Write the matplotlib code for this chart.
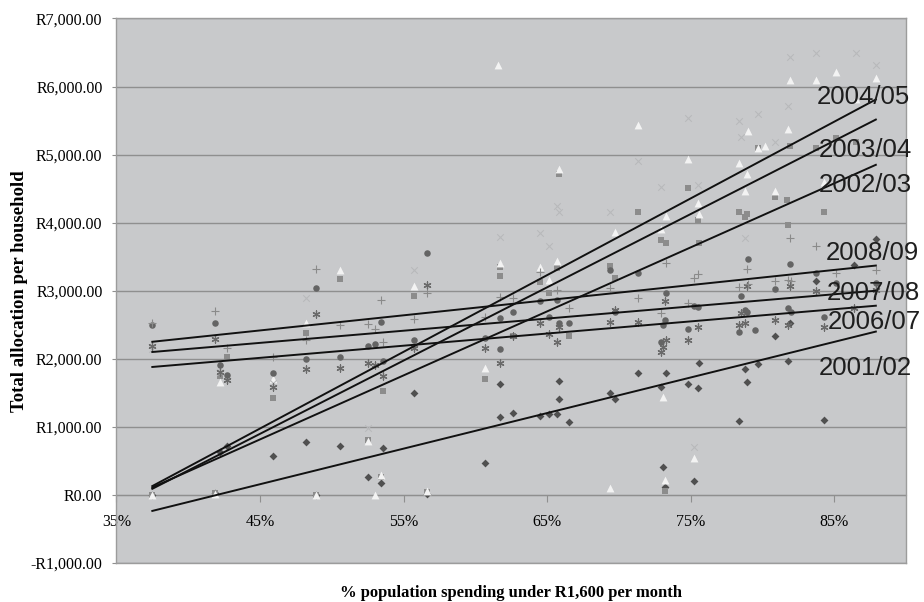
import matplotlib
matplotlib.use("Agg")
import matplotlib.pyplot as plt
from matplotlib.ticker import FuncFormatter, MultipleLocator


# % population spending under R1600 (x) and allocation per household (y)
# 2001/02 - diamonds
x_0102 = [37.5, 41.9, 42.2, 42.7, 45.9, 48.2, 48.9, 50.6, 52.5, 53.4, 53.6, 55.7, 56.6, 60.7, 61.7,
          61.7, 62.6, 64.5, 65.1, 65.7, 65.8, 65.8, 66.5, 69.4, 69.7, 71.3, 72.9, 73.1, 73.2, 73.3,
          74.8, 75.2, 75.5, 75.6, 78.4, 78.8, 78.9, 79.7, 80.9, 81.8, 81.9, 83.7, 84.3, 86.4, 87.9]
y_0102 = [0, 30, 630, 720, 570, 780, 0, 720, 265, 175, 690, 1500, 20, 470, 1630,
          1150, 1200, 1160, 1190, 1190, 1680, 1410, 1070, 1500, 1410, 1790, 1590, 410, 120, 1790,
          1630, 210, 1570, 1940, 1090, 1850, 1660, 1930, 2340, 1970, 2530, 3150, 1100, 3380, 3760]

# 2002/03 - squares
x_0203 = [37.5, 41.9, 42.2, 42.7, 45.9, 48.2, 48.9, 50.6, 52.5, 53.4, 53.6, 55.7, 56.6, 60.7, 61.7,
          61.7, 62.6, 64.5, 65.1, 65.7, 65.8, 66.5, 69.4, 69.7, 71.3, 72.9, 73.2, 73.3, 74.8, 75.5,
          75.6, 78.4, 78.8, 78.9, 79.7, 80.9, 81.8, 81.9, 83.7, 84.3, 85.1, 86.5, 81.7]
y_0203 = [0, 30, 1750, 2030, 1430, 2380, 0, 3170, 810, 265, 1530, 2930, 40, 1700, 3220,
          3350, 2330, 3130, 2970, 3340, 4720, 2340, 3370, 3190, 4150, 3740, 60, 3700, 4510, 4040,
          3700, 4160, 4090, 4130, 5100, 4380, 3970, 5120, 5090, 4160, 5250, 5190, 4340]

# 2003/04 - triangles
x_0304 = [37.5, 41.9, 42.2, 45.9, 48.2, 48.9, 50.6, 52.5, 53.0, 53.4, 55.7, 56.6, 60.7, 61.6, 61.7,
          64.5, 65.1, 65.7, 65.8, 69.4, 69.7, 71.3, 72.9, 73.1, 73.2, 73.3, 74.8, 75.2, 75.5, 75.6,
          78.4, 78.8, 79.0, 78.9, 79.7, 80.2, 80.9, 81.8, 81.9, 83.7, 84.3, 85.1, 86.5, 87.9]
y_0304 = [0, 20, 1660, 1700, 2530, 0, 3310, 790, 0, 300, 3070, 60, 1870, 6320, 3410,
          3350, 3160, 3440, 4790, 100, 3870, 5430, 3900, 1440, 220, 4100, 4940, 540, 4290, 4130,
          4880, 4470, 5350, 4720, 5090, 5120, 4460, 5380, 6100, 6090, 4600, 6210, 5810, 6130]

# 2004/05 - x
x_0405 = [37.5, 42.2, 45.9, 48.2, 52.5, 55.7, 61.7, 64.5, 65.1, 65.7, 65.8, 69.4, 71.3, 72.9,
          74.8, 75.2, 75.5, 78.4, 78.5, 78.8, 79.7, 80.9, 81.9, 81.8, 83.7, 86.5, 87.9]
y_0405 = [2150, 1800, 1650, 2900, 990, 3310, 3790, 3850, 3650, 4240, 4150, 4150, 4900, 4530,
          5540, 700, 4560, 5490, 5260, 3780, 5590, 5180, 6430, 5710, 6500, 6500, 6320]

# 2006/07 - stars
x_0607 = [37.5, 41.9, 42.2, 42.7, 45.9, 48.2, 48.9, 50.6, 52.5, 53.0, 53.6, 55.7, 56.6, 60.7, 61.7,
          62.6, 64.5, 65.1, 65.7, 65.8, 69.4, 69.7, 71.3, 72.9, 73.1, 73.2, 73.3, 74.8, 75.5, 78.4,
          78.5, 78.8, 78.9, 80.9, 81.8, 81.9, 83.7, 84.3, 86.4, 87.9]
y_0607 = [2190, 2290, 1800, 1690, 1590, 1850, 2660, 1870, 1940, 1910, 1750, 2160, 3090, 2160, 1940,
          2330, 2530, 2370, 2250, 2460, 2540, 2720, 2540, 2100, 2180, 2850, 2280, 2280, 2470, 2490,
          2680, 2530, 3070, 2570, 2490, 3070, 2990, 2470, 2740, 3010]

# 2007/08 - circles
x_0708 = [37.5, 41.9, 42.2, 42.7, 45.9, 48.2, 48.9, 50.6, 52.5, 53.0, 53.4, 53.6, 55.7, 56.6, 60.7,
          61.7, 61.7, 62.6, 64.5, 65.1, 65.7, 65.8, 66.5, 69.4, 69.7, 71.3, 72.9, 73.1, 73.2, 73.3,
          74.8, 75.2, 75.5, 78.4, 78.5, 78.8, 78.9, 79.0, 79.5, 80.9, 81.8, 81.9, 82.0, 83.7, 84.3,
          85.1, 87.9]
y_0708 = [2490, 2530, 1910, 1760, 1790, 2000, 3040, 2030, 2190, 2220, 2540, 1970, 2280, 3560, 2310,
          2600, 2150, 2690, 2850, 2620, 2870, 2530, 2530, 3310, 2690, 3260, 2250, 2490, 2570, 2970,
          2440, 2780, 2760, 2400, 2930, 2720, 2690, 3460, 2430, 3030, 2740, 3400, 2690, 3260, 2620,
          3120, 3120]

# 2008/09 - plus
x_0809 = [37.5, 41.9, 42.7, 45.9, 48.2, 48.9, 50.6, 52.5, 53.0, 53.4, 53.6, 55.7, 56.6, 60.7, 61.7,
          62.6, 64.5, 65.7, 66.5, 69.4, 71.3, 72.9, 73.3, 74.8, 75.2, 75.5, 78.4, 78.9, 79.0, 80.9,
          81.8, 81.9, 82.0, 83.7, 85.1, 87.9]
y_0809 = [2530, 2700, 2160, 2030, 2280, 3320, 2500, 2510, 2440, 2870, 2250, 2590, 2970, 2620, 2910,
          2900, 3280, 3010, 2750, 3040, 2900, 2680, 3410, 2820, 3190, 3240, 3060, 3320, 3100, 3150,
          3160, 3780, 3150, 3650, 3260, 3310]

# linear trendlines (value at start and end of the fitted range)
years = ["2001/02", "2002/03", "2003/04", "2004/05", "2006/07", "2007/08", "2008/09"]
trend_x = [37.5, 87.9]
trend_start = [-235, 110, 90, 130, 1880, 2100, 2250]
trend_end = [2400, 4850, 5515, 5810, 2780, 3000, 3370]


fig = plt.figure(figsize=(9.24, 6.02), dpi=100)
ax = fig.add_axes([0.126, 0.0648, 0.8545, 0.9045])
ax.set_facecolor("#c8c9cb")

ax.scatter(x_0102, y_0102, marker="D", s=16, color="#505050", linewidths=0, zorder=3)
ax.scatter(x_0203, y_0203, marker="s", s=22, color="#8c8c8c", linewidths=0, zorder=3)
ax.scatter(x_0304, y_0304, marker="^", s=32, color="#f3f3f3", linewidths=0, zorder=3)
ax.scatter(x_0405, y_0405, marker="x", s=22, color="#b8b9bb", linewidths=0.8, zorder=3)
ax.scatter(x_0607, y_0607, marker=(6, 2, 0), s=26, color="#6a6a6a", linewidths=0.9, zorder=3)
ax.scatter(x_0708, y_0708, marker="o", s=22, color="#646464", linewidths=0, zorder=3)
ax.scatter(x_0809, y_0809, marker="+", s=40, color="#8a8a8a", linewidths=0.8, zorder=3)

for i in range(len(years)):
    ax.plot(trend_x, [trend_start[i], trend_end[i]], color="#111111", linewidth=1.4, zorder=4)

# trendline labels (x in %, y in R)
label_pos = {"2004/05": (83.8, 5850), "2003/04": (83.9, 5070), "2002/03": (83.9, 4560),
             "2008/09": (84.4, 3560), "2007/08": (84.5, 2960), "2006/07": (84.55, 2540),
             "2001/02": (83.9, 1870)}
for yr in years:
    lx, ly = label_pos[yr]
    ax.text(lx, ly, yr, fontsize=18.5, family="Liberation Sans", color="#1e1e1e",
            ha="left", va="center", zorder=5, clip_on=False)

ax.set_xlim(35, 90)
ax.set_ylim(-1000, 7000)
ax.yaxis.set_major_locator(MultipleLocator(1000))
ax.yaxis.set_major_formatter(FuncFormatter(
    lambda v, p: f"R{v:,.2f}" if v >= 0 else f"-R{-v:,.2f}"))
ax.yaxis.grid(True, color="#8f8f8f", linewidth=1.0)
ax.set_axisbelow(True)
ax.tick_params(axis="x", bottom=False, labelbottom=False)
ax.tick_params(axis="y", direction="out", length=3, width=0.8, color="#8f8f8f", pad=7,
               labelsize=11.5)
for lab in ax.get_yticklabels():
    lab.set_family("Liberation Serif")
for sp in ax.spines.values():
    sp.set_color("#9c9c9c")
    sp.set_linewidth(1.0)

# x axis crossing at R0
sec = ax.secondary_xaxis(0.125)
sec.set_xticks([35, 45, 55, 65, 75, 85])
sec.xaxis.set_major_formatter(FuncFormatter(lambda v, p: f"{v:.0f}%"))
sec.spines["bottom"].set_color("#8f8f8f")
sec.tick_params(axis="x", direction="out", length=5, width=0.8, color="#8f8f8f", pad=9,
                labelsize=11.5)
for lab in sec.get_xticklabels():
    lab.set_family("Liberation Serif")

ax.set_ylabel("Total allocation per household", family="Liberation Serif", fontsize=13.5,
              fontweight="bold", labelpad=2)
fig.text(0.553, 0.015, "% population spending under R1,600 per month", family="Liberation Serif",
         fontsize=12, fontweight="bold", ha="center", va="center")

fig.savefig("out.png", dpi=100, facecolor="white")
